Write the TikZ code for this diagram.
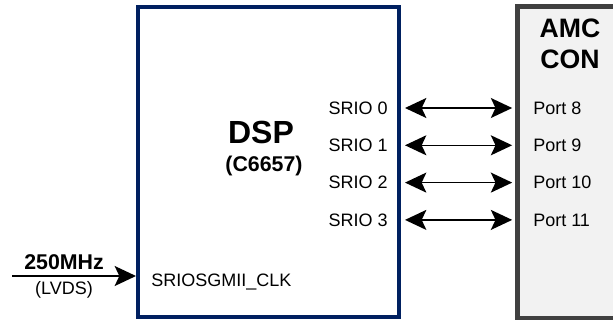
\documentclass[tikz,border=0pt]{standalone}
\usepackage{fontspec}
\setmainfont{Liberation Sans}
\usetikzlibrary{arrows.meta}
\definecolor{dspblue}{RGB}{0,32,96}
\definecolor{congray}{RGB}{64,64,64}
\definecolor{confill}{RGB}{242,242,242}
\tikzset{
  dspbox/.style={draw=dspblue, line width=3pt, fill=white, inner sep=0pt},
  conbox/.style={draw=congray, line width=3.5pt, fill=confill, inner sep=0pt},
  siglabel/.style={font=\fontsize{13.5}{16}\selectfont, inner sep=0pt},
  bidir/.style={{Stealth[length=16pt,width=15pt,inset=3.5pt]}-{Stealth[length=16pt,width=15pt,inset=3.5pt]}, line width=1.2pt},
  onedir/.style={-{Stealth[length=16pt,width=15pt,inset=3.5pt]}, line width=1.2pt}
}
\begin{document}
\begin{tikzpicture}[x=0.75pt,y=-0.75pt]
\clip (0,0) rectangle (613,321);

% Las dos cajas: el DSP y el conector AMC (que se sale por la derecha)
\node[dspbox, minimum width=195.75pt, minimum height=232.5pt] (dsp) at (268.5,162) {};
\node[conbox, minimum width=92pt, minimum height=233.6pt] (amc) at (578.5,162.25) {};

% Titulos de las cajas
\node[font=\bfseries\fontsize{24}{28}\selectfont] (dsptitle) at (261,132) {DSP};
\node[font=\bfseries\fontsize{16}{19}\selectfont] (dspchip) at (264,166) {(C6657)};
\node[font=\bfseries\fontsize{20}{23.25}\selectfont, align=center] (amctitle) at (570,44) {AMC\\CON};

% Enlaces SRIO entre el DSP y los puertos del conector
\foreach \k/\p in {0/8,1/9,2/10,3/11} {
  \node[siglabel, anchor=east] (srio\k) at (388,108+37.3*\k) {SRIO \k};
  \node[siglabel, anchor=west] (port\k) at (533,108+37.3*\k) {Port \p};
  \draw[bidir, shorten <=3pt, shorten >=2pt] (dsp.east |- srio\k) -- (amc.west |- port\k);
}

% Reloj de entrada
\coordinate (clkin) at (12,276);
\draw[onedir] (clkin) -- (dsp.west |- clkin);
\node[font=\bfseries\fontsize{16}{19}\selectfont] (freq) at (64,262) {250MHz};
\node[siglabel] (lvds) at (64,290) {(LVDS)};
\node[siglabel, anchor=base west] (clkpin) at (151,286.5) {SRIOSGMII\_CLK};
\end{tikzpicture}
\end{document}
